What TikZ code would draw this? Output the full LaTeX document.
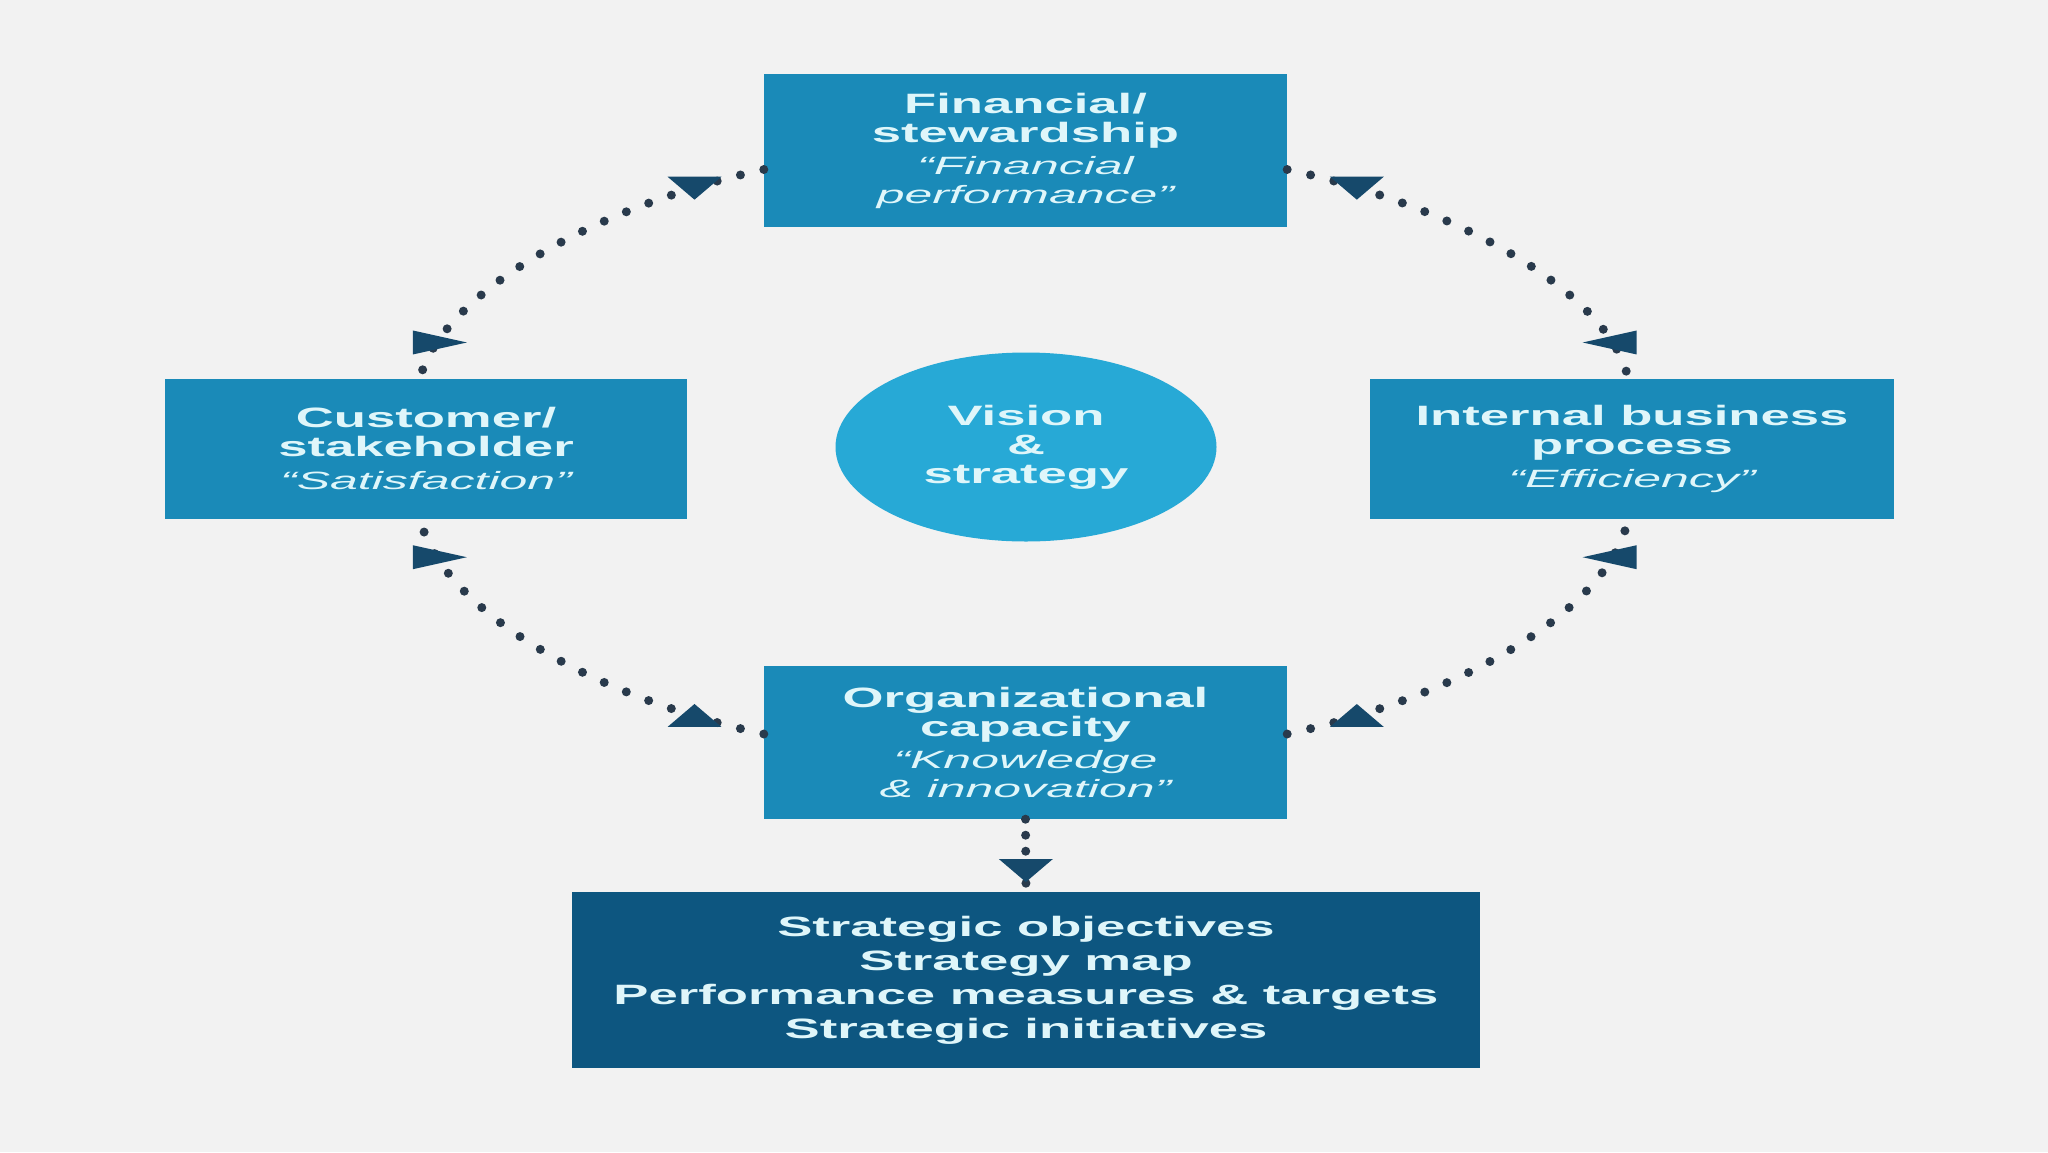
\documentclass[tikz,border=0pt]{standalone}
\usepackage{fontspec}
\usetikzlibrary{shapes.geometric}
\newfontfamily\wfam[FakeStretch=1.88]{Liberation Sans}
\newfontfamily\wifam[FakeStretch=2.0]{Liberation Sans}
\newcommand\bfnt{\wfam\bfseries\fontsize{28}{29}\selectfont}
\newcommand\bfntb{\wfam\bfseries\fontsize{28}{34}\selectfont}
\newcommand\itfnt{\wifam\mdseries\itshape\fontsize{25}{29}\selectfont}
\definecolor{bg}{HTML}{F2F2F2}
\definecolor{boxc}{HTML}{1A8AB8}
\definecolor{circc}{HTML}{27A9D6}
\definecolor{darkc}{HTML}{0D5680}
\definecolor{txtc}{HTML}{DFF6FA}
\definecolor{arrc}{HTML}{16496B}
\definecolor{dotc}{HTML}{293A4C}
\begin{document}
\begin{tikzpicture}[x=1pt,y=-1pt,
  pbox/.style={fill=boxc, text=txtc, align=center, font=\bfnt, inner sep=0pt},
  dbox/.style={fill=darkc, text=txtc, align=center, font=\bfntb, inner sep=0pt},
  vis/.style={ellipse, fill=circc, text=txtc, align=center, font=\bfnt, inner sep=0pt},
  dots/.style={draw=dotc, line width=9pt, line cap=round, dash pattern=on 0pt off 24pt},
  vdots/.style={draw=dotc, line width=9pt, line cap=round, dash pattern=on 0pt off 16pt},
  tdn/.pic={\fill[arrc] (-27,-11) -- (27,-11) -- (0,12) -- cycle;},
  tup/.pic={\fill[arrc] (0,-12) -- (-27,11) -- (27,11) -- cycle;},
  trt/.pic={\fill[arrc] (-24,-12) -- (-24,12) -- (30,0) -- cycle;},
  tlt/.pic={\fill[arrc] (24,-12) -- (24,12) -- (-30,0) -- cycle;}
]
\fill[bg] (0,0) rectangle (2048,1152);
\useasboundingbox (0,0) rectangle (2048,1152);

\node[pbox, minimum width=523pt, minimum height=153pt] (fin) at (1025.5,150.5)
  {Financial/\\stewardship\\[3pt]{\itfnt “Financial}\\{\itfnt performance”}};
\node[pbox, minimum width=522pt, minimum height=140pt] (cust) at (426,448.5)
  {Customer/\\stakeholder\\[4pt]{\itfnt “Satisfaction”}};
\node[pbox, minimum width=524pt, minimum height=140pt] (intl) at (1632,448.5)
  {Internal business\\process\\[4pt]{\itfnt “Efficiency”}};
\node[vis, minimum width=381pt, minimum height=189pt] (vis) at (1026,447)
  {Vision\\\&\\strategy};
\node[pbox, minimum width=523pt, minimum height=153pt] (org) at (1025.5,742.5)
  {Organizational\\capacity\\[3pt]{\itfnt “Knowledge}\\{\itfnt \& innovation”}};
\node[dbox, minimum width=908pt, minimum height=176pt] (bot) at (1026,980)
  {Strategic objectives\\Strategy map\\Performance measures \& targets\\Strategic initiatives};

\draw[dots] ([yshift=-19pt]fin.west) .. controls (580,210) and (440,300) .. ([xshift=-6pt]cust.north)
  coordinate[pos=0.13] (a1) coordinate[pos=0.85] (a2);
\draw[dots] ([yshift=-19pt]fin.east) .. controls (1472,210) and (1612,300) .. ([xshift=-4pt]intl.north)
  coordinate[pos=0.13] (b1) coordinate[pos=0.85] (b2);
\draw[dots] ([yshift=8.5pt]org.west) .. controls (580,694) and (440,604) .. ([xshift=-6pt]cust.south)
  coordinate[pos=0.13] (c1) coordinate[pos=0.85] (c2);
\draw[dots] ([yshift=8.5pt]org.east) .. controls (1472,694) and (1612,604) .. ([xshift=-4pt]intl.south)
  coordinate[pos=0.13] (d1) coordinate[pos=0.85] (d2);
\draw[vdots] (org.south) -- (bot.north) coordinate[pos=0.7] (e1);

\pic at (a1) {tdn};
\pic at (a2) {trt};
\pic at (b1) {tdn};
\pic at (b2) {tlt};
\pic at (c1) {tup};
\pic at (c2) {trt};
\pic at (d1) {tup};
\pic at (d2) {tlt};
\pic at (e1) {tdn};
\end{tikzpicture}
\end{document}
